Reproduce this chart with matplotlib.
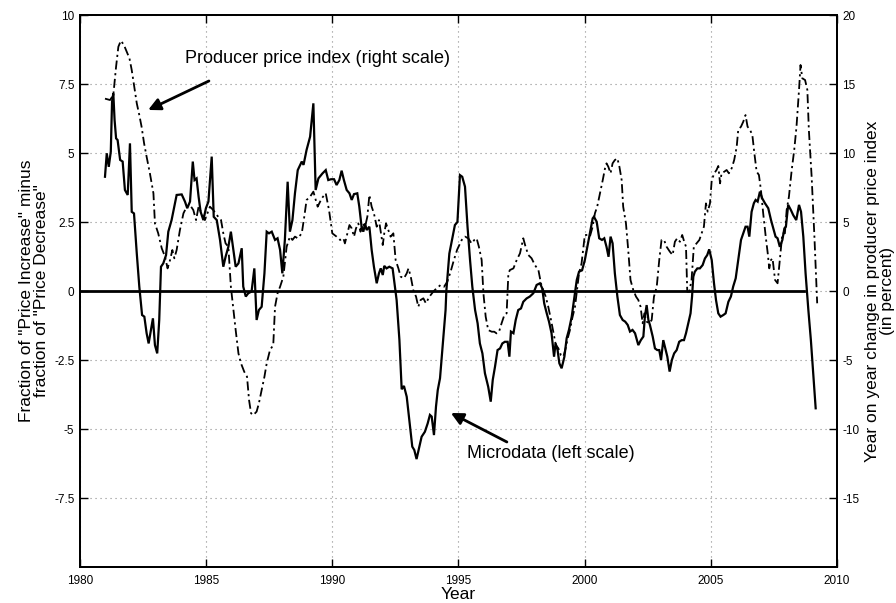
import matplotlib

matplotlib.use("Agg")
import matplotlib.pyplot as plt

plt.rcParams["font.family"] = ["Liberation Sans", "DejaVu Sans"]
plt.rcParams["axes.unicode_minus"] = False

# Microdata: share of price increases minus share of price decreases (left scale)
micro_years = [
    1980.99, 1981.06, 1981.14, 1981.22, 1981.27, 1981.32, 1981.37, 1981.43, 1981.49, 1981.59,
    1981.69, 1981.78, 1981.89, 1981.98, 1982.05, 1982.14, 1982.25, 1982.35, 1982.46, 1982.55,
    1982.64, 1982.72, 1982.81, 1982.89, 1982.97, 1983.06, 1983.14, 1983.21, 1983.30, 1983.41,
    1983.50, 1983.63, 1983.83, 1984.03, 1984.16, 1984.25, 1984.36, 1984.47, 1984.54, 1984.62,
    1984.70, 1984.78, 1984.89, 1984.99, 1985.09, 1985.22, 1985.30, 1985.42, 1985.55, 1985.68,
    1985.77, 1985.88, 1985.98, 1986.08, 1986.17, 1986.28, 1986.41, 1986.47, 1986.57, 1986.67,
    1986.80, 1986.91, 1987.00, 1987.09, 1987.20, 1987.31, 1987.40, 1987.49, 1987.60, 1987.73,
    1987.83, 1987.93, 1988.02, 1988.12, 1988.23, 1988.32, 1988.42, 1988.52, 1988.63, 1988.79,
    1988.86, 1988.98, 1989.12, 1989.25, 1989.34, 1989.45, 1989.61, 1989.74, 1989.84, 1989.95,
    1990.07, 1990.17, 1990.28, 1990.37, 1990.46, 1990.57, 1990.68, 1990.77, 1990.86, 1990.99,
    1991.07, 1991.16, 1991.23, 1991.30, 1991.36, 1991.47, 1991.56, 1991.65, 1991.76, 1991.85,
    1991.92, 1992.00, 1992.06, 1992.15, 1992.26, 1992.39, 1992.48, 1992.55, 1992.66, 1992.75,
    1992.84, 1992.95, 1993.08, 1993.17, 1993.25, 1993.34, 1993.45, 1993.54, 1993.67, 1993.78,
    1993.87, 1993.94, 1994.03, 1994.11, 1994.18, 1994.27, 1994.37, 1994.49, 1994.52, 1994.64,
    1994.73, 1994.86, 1994.96, 1995.06, 1995.15, 1995.26, 1995.36, 1995.46, 1995.55, 1995.66,
    1995.76, 1995.85, 1995.95, 1996.05, 1996.18, 1996.28, 1996.36, 1996.45, 1996.55, 1996.65,
    1996.74, 1996.84, 1996.95, 1997.02, 1997.08, 1997.18, 1997.27, 1997.37, 1997.48, 1997.57,
    1997.70, 1997.83, 1997.97, 1998.10, 1998.23, 1998.32, 1998.40, 1998.50, 1998.59, 1998.69,
    1998.79, 1998.85, 1998.93, 1999.00, 1999.09, 1999.20, 1999.29, 1999.38, 1999.49, 1999.59,
    1999.69, 1999.78, 1999.90, 2000.01, 2000.11, 2000.21, 2000.32, 2000.37, 2000.48, 2000.58,
    2000.69, 2000.78, 2000.87, 2000.95, 2001.03, 2001.11, 2001.20, 2001.30, 2001.40, 2001.51,
    2001.61, 2001.71, 2001.80, 2001.90, 2002.00, 2002.13, 2002.23, 2002.33, 2002.39, 2002.46,
    2002.53, 2002.59, 2002.70, 2002.79, 2002.88, 2002.96, 2003.03, 2003.12, 2003.20, 2003.28,
    2003.37, 2003.46, 2003.55, 2003.65, 2003.75, 2003.85, 2003.94, 2004.02, 2004.11, 2004.20,
    2004.26, 2004.31, 2004.37, 2004.47, 2004.57, 2004.68, 2004.77, 2004.86, 2004.94, 2005.04,
    2005.13, 2005.21, 2005.30, 2005.39, 2005.50, 2005.59, 2005.70, 2005.80, 2005.89, 2005.99,
    2006.09, 2006.20, 2006.29, 2006.38, 2006.46, 2006.53, 2006.62, 2006.71, 2006.78, 2006.86,
    2006.95, 2007.04, 2007.15, 2007.28, 2007.39, 2007.48, 2007.57, 2007.65, 2007.74, 2007.84,
    2007.92, 2007.98, 2008.07, 2008.18, 2008.27, 2008.39, 2008.50, 2008.58, 2008.67, 2008.76,
    2008.87, 2008.97, 2009.16,
]
micro_values = [
    4.14, 4.99, 4.50, 5.05, 6.86, 7.16, 6.20, 5.53, 5.47, 4.75,
    4.69, 3.66, 3.48, 5.35, 2.87, 2.81, 1.36, 0.16, -0.87, -0.93,
    -1.53, -1.90, -1.41, -0.99, -1.96, -2.26, -1.05, 0.88, 1.00, 1.30,
    2.15, 2.57, 3.48, 3.50, 3.24, 3.00, 3.24, 4.69, 4.02, 4.08,
    3.42, 2.87, 2.57, 3.00, 3.24, 4.87, 2.69, 2.57, 1.85, 0.88,
    1.24, 1.60, 2.15, 1.49, 0.88, 1.00, 1.55, 0.16, -0.20, -0.08,
    -0.02, 0.82, -1.05, -0.69, -0.57, 0.64, 2.15, 2.09, 2.15, 1.85,
    1.91, 1.49, 0.64, 1.85, 3.96, 2.15, 2.57, 3.54, 4.38, 4.69,
    4.57, 5.11, 5.59, 6.80, 3.66, 4.08, 4.26, 4.38, 4.02, 4.05,
    4.05, 3.84, 4.02, 4.36, 4.02, 3.66, 3.54, 3.30, 3.51, 3.54,
    3.06, 2.33, 2.15, 2.45, 2.21, 2.33, 1.49, 0.88, 0.28, 0.64,
    0.82, 0.58, 0.91, 0.82, 0.88, 0.82, 0.16, -0.33, -1.77, -3.56,
    -3.44, -3.83, -4.92, -5.64, -5.76, -6.09, -5.64, -5.28, -5.10, -4.80,
    -4.49, -4.55, -5.22, -4.19, -3.59, -3.16, -2.02, -0.69, 0.00, 1.36,
    1.79, 2.39, 2.50, 4.20, 4.14, 3.78, 2.33, 1.12, 0.16, -0.69,
    -1.17, -1.90, -2.26, -2.98, -3.47, -4.01, -3.22, -2.74, -2.14, -2.08,
    -1.90, -1.84, -1.84, -2.38, -1.47, -1.53, -1.05, -0.69, -0.63, -0.39,
    -0.27, -0.20, -0.08, 0.22, 0.28, 0.10, -0.45, -0.81, -1.11, -1.53,
    -2.38, -1.90, -2.14, -2.62, -2.80, -2.38, -1.71, -1.41, -0.93, -0.27,
    0.40, 0.70, 0.75, 1.12, 1.60, 2.09, 2.63, 2.69, 2.51, 1.91,
    1.85, 1.91, 1.60, 1.24, 1.97, 1.73, 0.64, -0.20, -0.87, -1.05,
    -1.11, -1.23, -1.47, -1.41, -1.53, -1.96, -1.78, -1.65, -0.93, -0.51,
    -1.05, -1.23, -1.65, -2.08, -2.14, -2.14, -2.50, -1.78, -2.08, -2.38,
    -2.92, -2.50, -2.26, -2.14, -1.84, -1.78, -1.78, -1.53, -1.17, -0.81,
    -0.20, 0.52, 0.70, 0.82, 0.82, 0.94, 1.18, 1.30, 1.51, 1.12,
    0.28, -0.33, -0.81, -0.93, -0.87, -0.81, -0.39, -0.20, 0.16, 0.46,
    1.12, 1.85, 2.09, 2.33, 2.33, 1.97, 2.87, 3.18, 3.30, 3.24,
    3.60, 3.36, 3.18, 3.00, 2.57, 2.27, 1.97, 1.91, 1.60, 1.85,
    2.27, 2.33, 3.12, 2.93, 2.75, 2.57, 3.12, 2.87, 1.97, 0.64,
    -0.69, -1.78, -4.25,
]

# Producer price index, year on year change in percent (right scale)
ppi_years = [
    1980.99, 1981.19, 1981.32, 1981.43, 1981.52, 1981.62, 1981.74, 1981.85, 1981.96, 1982.05,
    1982.14, 1982.25, 1982.35, 1982.44, 1982.54, 1982.64, 1982.77, 1982.91, 1982.97, 1983.10,
    1983.24, 1983.37, 1983.47, 1983.57, 1983.66, 1983.74, 1983.83, 1983.96, 1984.10, 1984.23,
    1984.36, 1984.49, 1984.60, 1984.70, 1984.82, 1984.95, 1985.15, 1985.28, 1985.42, 1985.59,
    1985.68, 1985.77, 1985.88, 1985.98, 1986.08, 1986.17, 1986.28, 1986.38, 1986.51, 1986.62,
    1986.70, 1986.78, 1986.87, 1987.00, 1987.09, 1987.20, 1987.31, 1987.40, 1987.53, 1987.66,
    1987.73, 1987.83, 1987.93, 1988.06, 1988.19, 1988.32, 1988.42, 1988.52, 1988.63, 1988.79,
    1988.89, 1988.98, 1989.12, 1989.25, 1989.42, 1989.58, 1989.74, 1989.87, 1990.00, 1990.17,
    1990.31, 1990.44, 1990.50, 1990.60, 1990.68, 1990.77, 1990.86, 1990.94, 1991.03, 1991.12,
    1991.20, 1991.30, 1991.39, 1991.47, 1991.56, 1991.65, 1991.76, 1991.85, 1991.93, 1992.00,
    1992.06, 1992.13, 1992.22, 1992.31, 1992.42, 1992.51, 1992.62, 1992.71, 1992.84, 1992.95,
    1993.02, 1993.11, 1993.21, 1993.32, 1993.41, 1993.50, 1993.61, 1993.71, 1993.85, 1994.00,
    1994.13, 1994.29, 1994.43, 1994.56, 1994.69, 1994.82, 1994.95, 1995.13, 1995.26, 1995.39,
    1995.52, 1995.63, 1995.72, 1995.81, 1995.92, 1995.99, 1996.08, 1996.18, 1996.32, 1996.42,
    1996.51, 1996.61, 1996.71, 1996.82, 1996.91, 1996.98, 1997.04, 1997.18, 1997.31, 1997.44,
    1997.57, 1997.66, 1997.77, 1997.90, 1998.03, 1998.17, 1998.27, 1998.36, 1998.46, 1998.56,
    1998.67, 1998.77, 1998.86, 1998.96, 1999.06, 1999.16, 1999.25, 1999.33, 1999.42, 1999.51,
    1999.62, 1999.70, 1999.78, 1999.88, 2000.01, 2000.11, 2000.21, 2000.32, 2000.41, 2000.50,
    2000.61, 2000.72, 2000.81, 2000.87, 2000.94, 2001.03, 2001.11, 2001.20, 2001.30, 2001.38,
    2001.47, 2001.53, 2001.64, 2001.73, 2001.82, 2001.93, 2002.04, 2002.13, 2002.22, 2002.30,
    2002.37, 2002.46, 2002.56, 2002.66, 2002.75, 2002.86, 2002.96, 2003.05, 2003.15, 2003.25,
    2003.38, 2003.49, 2003.58, 2003.67, 2003.78, 2003.87, 2003.95, 2004.02, 2004.07, 2004.15,
    2004.24, 2004.33, 2004.44, 2004.55, 2004.64, 2004.73, 2004.81, 2004.88, 2004.97, 2005.04,
    2005.14, 2005.23, 2005.30, 2005.37, 2005.43, 2005.54, 2005.63, 2005.72, 2005.83, 2005.93,
    2006.03, 2006.09, 2006.20, 2006.29, 2006.38, 2006.46, 2006.56, 2006.65, 2006.73, 2006.82,
    2006.91, 2006.99, 2007.08, 2007.18, 2007.26, 2007.32, 2007.39, 2007.45, 2007.55, 2007.65,
    2007.74, 2007.84, 2007.94, 2008.01, 2008.10, 2008.21, 2008.31, 2008.40, 2008.50, 2008.56,
    2008.63, 2008.74, 2008.83, 2008.89, 2009.00, 2009.11, 2009.22,
]
ppi_values = [
    13.94, 13.84, 14.20, 16.26, 17.70, 18.14, 17.83, 17.34, 16.86, 16.01,
    14.93, 13.60, 12.75, 11.91, 10.70, 9.73, 8.53, 7.08, 4.90, 4.18,
    3.09, 2.49, 1.64, 2.25, 2.97, 2.37, 2.97, 4.42, 5.63, 6.11,
    6.23, 5.87, 5.14, 6.11, 5.63, 5.14, 6.11, 5.87, 5.51, 5.14,
    4.18, 3.45, 3.21, 0.31, -1.38, -2.83, -4.52, -5.24, -5.85, -6.21,
    -7.90, -8.86, -8.99, -8.74, -8.14, -7.17, -6.21, -5.24, -4.28, -3.91,
    -1.14, -0.17, 0.31, 1.04, 3.21, 3.94, 3.70, 3.94, 3.82, 4.18,
    5.39, 6.59, 6.84, 7.20, 6.11, 6.71, 7.08, 5.87, 4.18, 3.94,
    3.70, 3.82, 3.45, 4.18, 4.78, 4.54, 3.94, 4.54, 4.90, 4.30,
    4.90, 4.66, 5.39, 6.96, 6.11, 5.63, 4.66, 5.14, 4.18, 3.33,
    4.18, 4.90, 4.42, 3.94, 4.18, 2.25, 1.64, 1.04, 0.92, 1.28,
    1.64, 1.04, 0.07, -0.41, -1.14, -0.65, -0.53, -0.89, -0.41, -0.05,
    0.19, 0.43, 0.31, 0.68, 1.40, 2.25, 3.00, 3.70, 3.94, 3.82,
    3.45, 3.70, 3.82, 3.21, 2.25, -0.17, -1.86, -2.83, -2.95, -2.95,
    -3.07, -2.95, -2.34, -1.74, -1.62, 1.28, 1.52, 1.64, 2.25, 2.73,
    3.82, 3.21, 2.61, 2.37, 1.88, 1.52, 0.56, 0.07, -0.41, -1.14,
    -2.10, -3.07, -3.91, -4.15, -4.64, -4.76, -4.15, -3.43, -2.83, -1.98,
    -1.14, 0.07, 1.28, 2.00, 4.06, 4.06, 3.94, 4.66, 5.63, 6.11,
    7.08, 8.04, 8.89, 9.25, 9.01, 8.53, 9.25, 9.49, 9.61, 9.01,
    8.04, 6.11, 4.90, 2.97, 0.80, 0.07, -0.41, -0.65, -1.14, -2.34,
    -1.62, -2.22, -2.34, -2.10, -0.41, 0.31, 2.25, 3.70, 3.70, 3.21,
    2.85, 2.61, 3.57, 3.82, 3.57, 4.06, 3.57, 3.21, -0.05, -0.05,
    0.80, 3.21, 3.45, 3.70, 4.18, 4.66, 6.35, 5.75, 6.35, 8.04,
    8.53, 8.77, 9.06, 7.80, 8.53, 8.65, 8.77, 8.53, 8.89, 9.49,
    10.46, 11.67, 11.91, 12.27, 12.75, 11.91, 11.67, 11.30, 9.98, 8.65,
    8.41, 7.32, 5.63, 3.94, 2.73, 1.64, 2.25, 2.37, 0.80, 0.56,
    2.25, 4.18, 4.18, 5.87, 6.84, 8.77, 10.22, 11.91, 14.57, 16.38,
    15.41, 15.29, 14.57, 11.67, 8.29, 3.94, -0.89,
]

year_ticks = [1980, 1985, 1990, 1995, 2000, 2005, 2010]
left_ticks = [-7.5, -5, -2.5, 0, 2.5, 5, 7.5, 10]
left_tick_labels = ["-7.5", "-5", "-2.5", "0", "2.5", "5", "7.5", "10"]
right_ticks = [-15, -10, -5, 0, 5, 10, 15, 20]

fig = plt.figure(figsize=(8.96, 6.03), dpi=100)
ax = fig.add_axes([0.0893, 0.0597, 0.8447, 0.9154])
ax2 = ax.twinx()

grid_style = dict(color="0.55", linestyle=(0, (1, 3.5)), linewidth=0.8)
ax.grid(True, which="major", **grid_style)
ax.set_axisbelow(True)

# zero reference line
ax.plot([1980, 2008.7], [0, 0], color="black", linewidth=2.0)
ax.plot(micro_years, micro_values, color="black", linewidth=1.6, solid_joinstyle="miter")
ax2.plot(ppi_years, ppi_values, color="black", linewidth=1.3,
         linestyle=(0, (5, 2, 1.2, 2)))

ax.set_xlim(1980, 2010)
ax.set_ylim(-10, 10)
ax2.set_ylim(-20, 20)

ax.set_xticks(year_ticks)
ax.set_yticks(left_ticks)
ax.set_yticklabels(left_tick_labels)
ax2.set_yticks(right_ticks)

for a in (ax, ax2):
    a.tick_params(direction="in", length=6, width=1.0, labelsize=8.5, pad=4)
    for spine in a.spines.values():
        spine.set_linewidth(1.4)
ax.tick_params(axis="x", top=True, pad=6)
ax.tick_params(axis="y", right=False)

ax.set_xlabel("Year", fontsize=12.5, labelpad=0)
ax.set_ylabel('Fraction of "Price Increase" minus\nfraction of "Price Decrease"',
              fontsize=12.5, labelpad=4, linespacing=1.0)
ax2.set_ylabel("Year on year change in producer price index\n(in percent)",
               fontsize=12.5, labelpad=4, linespacing=1.0)

arrow_props = dict(arrowstyle="-|>", color="black", linewidth=2.0, mutation_scale=18,
                   shrinkA=0, shrinkB=0)
ax.annotate("", xy=(1982.70, 6.56), xytext=(1985.11, 7.61), arrowprops=arrow_props)
ax.text(1984.16, 8.44, "Producer price index (right scale)", fontsize=13,
        ha="left", va="center")
ax.annotate("", xy=(1994.70, -4.42), xytext=(1996.92, -5.47), arrowprops=arrow_props)
ax.text(1995.34, -5.9, "Microdata (left scale)", fontsize=13, ha="left", va="center")

fig.savefig("out.png", dpi=100)
